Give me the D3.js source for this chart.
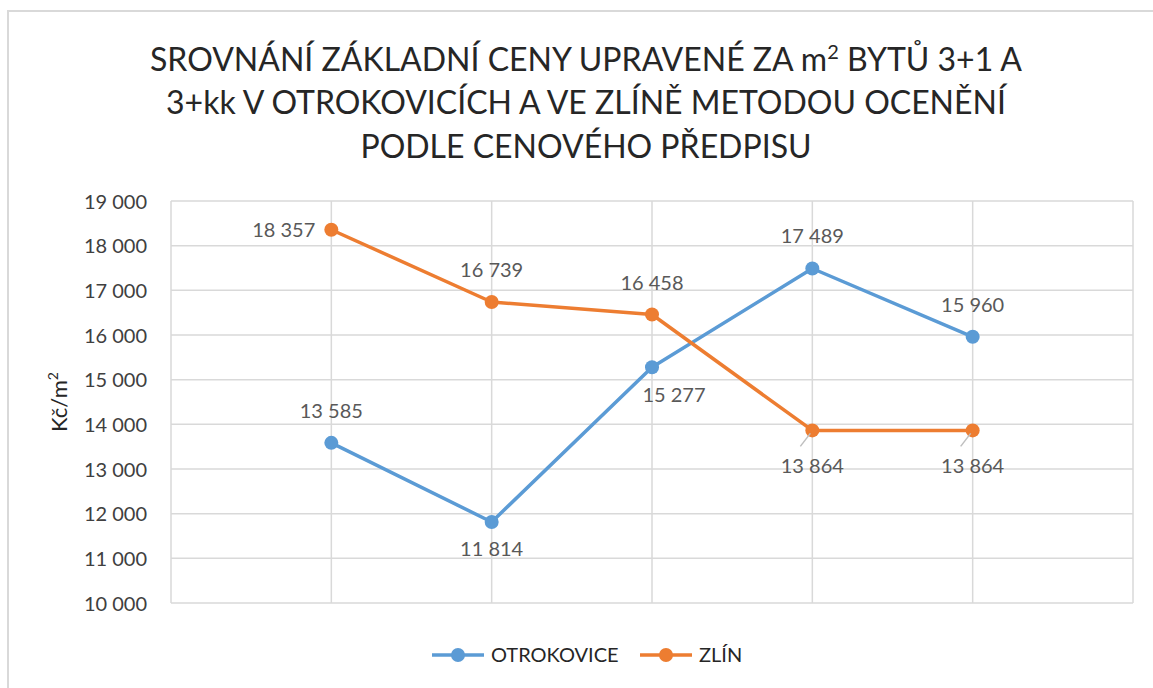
<!DOCTYPE html>
<html>
<head>
<meta charset="utf-8">
<script src="https://cdn.jsdelivr.net/npm/d3@7"></script>
<style>
  body { margin: 0; background: #fff; }
  svg { display: block; font-family: Lato, 'Noto Sans', sans-serif; }
</style>
</head>
<body>
<div id="chart"></div>
<script>
// data
var categories = ['1', '2', '3', '4', '5']
var seriesNames = ['OTROKOVICE', 'ZLÍN']
var otrokovice = [13585, 11814, 15277, 17489, 15960]
var zlin = [18357, 16739, 16458, 13864, 13864]
var yTicks = [10000, 11000, 12000, 13000, 14000, 15000, 16000, 17000, 18000, 19000]
// where Excel put each data label
var otrokoviceLabelPos = ['above', 'below', 'belowRight', 'above', 'above']
var zlinLabelPos = ['left', 'above', 'above', 'leader', 'leader']

var colors = ['#5b9bd5', '#ed7d31']
var width = 1153
var height = 688
var margin = { left: 171, right: 20, top: 201, bottom: 85 }

var locale = d3.formatLocale({ decimal: ',', thousands: '\u00a0', grouping: [3], currency: ['', ' Kč'] })
var fmt = locale.format(',d')

var svg = d3.select('#chart')
  .append('svg')
  .attr('width', width)
  .attr('height', height)

// outer chart frame
svg.append('rect')
  .attr('x', 8)
  .attr('y', 11)
  .attr('width', width + 10)
  .attr('height', height + 10)
  .attr('fill', 'none')
  .attr('stroke', '#d9d9d9')
  .attr('stroke-width', 2)

var x = d3.scalePoint()
  .domain(categories)
  .range([margin.left, width - margin.right])
  .padding(1)

var y = d3.scaleLinear()
  .domain([10000, 19000])
  .range([height - margin.bottom, margin.top])

// title
var title = svg.append('text')
  .attr('text-anchor', 'middle')
  .attr('fill', '#262626')
  .attr('font-size', 32)
var l1 = title.append('tspan').attr('x', 586).attr('y', 71)
l1.append('tspan').text('SROVNÁNÍ ZÁKLADNÍ CENY UPRAVENÉ ZA m')
l1.append('tspan').attr('dy', -12).attr('font-size', 20).text('2')
l1.append('tspan').attr('dy', 12).text(' BYTŮ 3+1 A')
title.append('tspan').attr('x', 586).attr('y', 114).text('3+kk V OTROKOVICÍCH A VE ZLÍNĚ METODOU OCENĚNÍ')
title.append('tspan').attr('x', 586).attr('y', 158).text('PODLE CENOVÉHO PŘEDPISU')

// gridlines
var grid = svg.append('g').attr('stroke', '#d9d9d9').attr('stroke-width', 1.5)
grid.selectAll('line.h')
  .data(yTicks)
  .enter()
  .append('line')
  .attr('x1', margin.left)
  .attr('x2', width - margin.right)
  .attr('y1', function (d) { return y(d) })
  .attr('y2', function (d) { return y(d) })

var step = x.step()
var vx = [x(categories[0]) - step].concat(categories.map(function (c) { return x(c) }))
vx.push(x(categories[categories.length - 1]) + step)
grid.selectAll('line.v')
  .data(vx)
  .enter()
  .append('line')
  .attr('x1', function (d) { return d })
  .attr('x2', function (d) { return d })
  .attr('y1', margin.top)
  .attr('y2', height - margin.bottom)

// y axis labels
var yAxis = svg.append('g')
  .attr('transform', 'translate(' + (margin.left - 21) + ',0)')
  .call(d3.axisLeft(y).tickValues(yTicks).tickFormat(fmt).tickSize(0))
yAxis.select('.domain').remove()
yAxis.selectAll('text')
  .attr('font-family', 'Lato, sans-serif')
  .attr('font-size', 20)
  .attr('fill', '#404040')
  .attr('dy', '0.35em')

// y axis title
var yt = svg.append('text')
  .attr('transform', 'translate(67,' + ((margin.top + height - margin.bottom) / 2) + ') rotate(-90)')
  .attr('text-anchor', 'middle')
  .attr('font-size', 22)
  .attr('fill', '#262626')
yt.append('tspan').text('Kč/m')
yt.append('tspan').attr('dy', -9).attr('font-size', 14).text('2')

var series = [
  { name: seriesNames[0], values: otrokovice, pos: otrokoviceLabelPos, color: colors[0] },
  { name: seriesNames[1], values: zlin, pos: zlinLabelPos, color: colors[1] }
]

var line = d3.line()
  .x(function (d, i) { return x(categories[i]) })
  .y(function (d) { return y(d) })

series.forEach(function (s) {
  var g = svg.append('g')
  g.append('path')
    .datum(s.values)
    .attr('d', line)
    .attr('fill', 'none')
    .attr('stroke', s.color)
    .attr('stroke-width', 3.5)
    .attr('stroke-linejoin', 'round')

  g.selectAll('circle')
    .data(s.values)
    .enter()
    .append('circle')
    .attr('cx', function (d, i) { return x(categories[i]) })
    .attr('cy', function (d) { return y(d) })
    .attr('r', 7)
    .attr('fill', s.color)
})

// data labels drawn after both lines
series.forEach(function (s) {
  var g = svg.append('g')
  s.values.forEach(function (d, i) {
    var px = x(categories[i])
    var py = y(d)
    var p = s.pos[i]
    var tx = px
    var ty = py
    var anchor = 'middle'
    if (p === 'above') { ty = py - 32 }
    if (p === 'below') { ty = py + 27 }
    if (p === 'belowRight') { tx = px + 22; ty = py + 28 }
    if (p === 'left') { tx = px - 16; anchor = 'end' }
    if (p === 'leader') {
      ty = py + 36
      g.append('line')
        .attr('x1', px - 2)
        .attr('y1', py + 3)
        .attr('x2', px - 12)
        .attr('y2', py + 16)
        .attr('stroke', '#bfbfbf')
        .attr('stroke-width', 1.5)
    }
    g.append('text')
      .attr('x', tx)
      .attr('y', ty)
      .attr('dy', '0.35em')
      .attr('text-anchor', anchor)
      .attr('font-size', 20)
      .attr('fill', '#595959')
      .text(fmt(d))
  })
})

// legend
var legend = svg.append('g').attr('transform', 'translate(0,655)')
var legendX = [432, 640]
series.forEach(function (s, i) {
  var lg = legend.append('g').attr('transform', 'translate(' + legendX[i] + ',0)')
  lg.append('line')
    .attr('x1', 0)
    .attr('x2', 52)
    .attr('stroke', s.color)
    .attr('stroke-width', 3.5)
  lg.append('circle')
    .attr('cx', 26)
    .attr('r', 7)
    .attr('fill', s.color)
  lg.append('text')
    .attr('x', 59)
    .attr('dy', '0.35em')
    .attr('font-size', 20)
    .attr('fill', '#262626')
    .text(s.name)
})
</script>
</body>
</html>
